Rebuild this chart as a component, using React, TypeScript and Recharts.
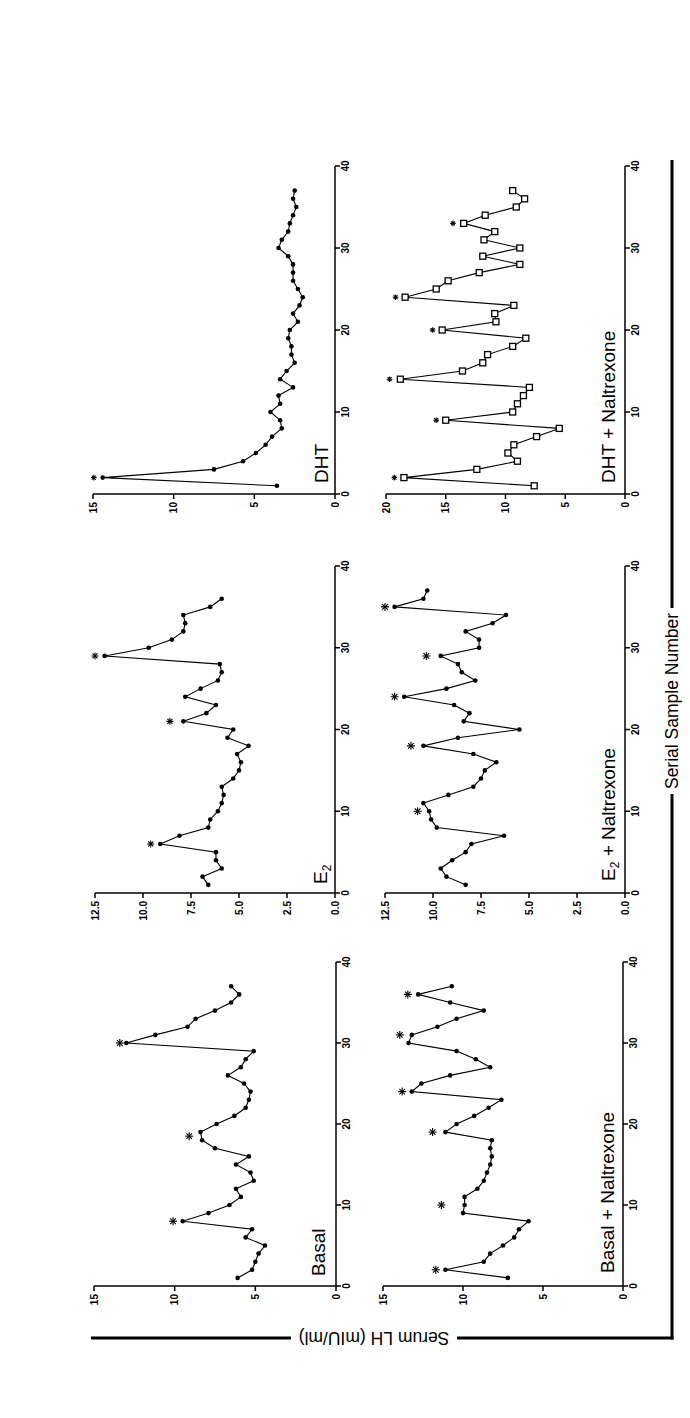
import React from 'react';
import { ComposedChart, Line, Scatter, XAxis, YAxis } from 'recharts';

// ---- ticks ----
const sampleTicks = [0, 10, 20, 30, 40];
const ticks15 = [0, 5, 10, 15];
const ticks125 = [0, 2.5, 5, 7.5, 10, 12.5];
const ticks20 = [0, 5, 10, 15, 20];

// ---- serum LH (mIU/ml), samples 1..n ----
const basalLH = [6.1, 5.2, 5.0, 4.8, 4.4, 5.6, 5.2, 9.5, 7.9, 6.6, 5.9, 6.2, 5.1, 5.3, 6.2, 5.4, 7.5, 8.3, 8.4, 7.4, 6.3, 5.6, 5.4, 5.3, 5.7, 6.7, 5.9, 5.6, 5.1, 13.0, 11.2, 9.2, 8.7, 7.5, 6.5, 6.0, 6.5];
const basalStarSamples = [8, 18.5, 30];
const basalStarLH = [10.1, 9.1, 13.4];

const e2LH = [6.6, 6.9, 5.9, 6.2, 6.2, 9.1, 8.1, 6.6, 6.5, 6.1, 5.9, 5.8, 5.9, 5.3, 5.0, 4.9, 5.1, 4.5, 5.6, 5.3, 7.9, 6.7, 6.2, 7.8, 7.0, 6.1, 5.9, 6.0, 12.0, 9.7, 8.5, 7.9, 7.8, 7.9, 6.5, 5.9];
const e2StarSamples = [6, 21, 29];
const e2StarLH = [9.6, 8.6, 12.5];

const dhtLH = [3.6, 14.4, 7.5, 5.7, 4.9, 4.3, 3.9, 3.3, 3.4, 4.0, 3.4, 3.5, 2.6, 3.4, 3.0, 2.5, 2.7, 2.7, 2.9, 2.8, 2.3, 2.6, 2.2, 2.0, 2.3, 2.6, 2.6, 2.6, 2.9, 3.5, 3.3, 2.9, 2.8, 2.6, 2.4, 2.6, 2.5];
const dhtStarSamples = [2];
const dhtStarLH = [14.95];

const basalNalLH = [7.2, 11.1, 8.7, 8.3, 7.5, 6.8, 6.5, 5.9, 10.0, 9.9, 9.9, 9.1, 8.7, 8.5, 8.3, 8.2, 8.3, 8.2, 11.1, 10.4, 9.3, 8.4, 7.6, 13.2, 12.6, 10.8, 8.3, 9.2, 10.4, 13.4, 13.2, 11.6, 10.4, 8.7, 10.8, 12.8, 10.7];
const basalNalStarSamples = [2, 10, 19, 24, 31, 36];
const basalNalStarLH = [11.7, 11.35, 11.9, 13.8, 13.95, 13.45];

const e2NalLH = [8.3, 9.3, 9.6, 9.0, 8.3, 8.0, 6.3, 9.8, 10.1, 10.2, 10.5, 9.2, 7.9, 7.5, 7.3, 6.7, 7.9, 10.5, 8.7, 5.5, 8.4, 8.1, 8.9, 11.5, 9.3, 7.8, 8.5, 8.7, 9.6, 7.6, 7.6, 8.3, 6.9, 6.2, 12.0, 10.5, 10.3];
const e2NalStarSamples = [10, 18, 24, 29, 35];
const e2NalStarLH = [10.8, 11.15, 12.0, 10.35, 12.5];

const dhtNalLH = [7.6, 18.5, 12.4, 9.0, 9.8, 9.3, 7.4, 5.5, 15.0, 9.4, 9.0, 8.5, 8.0, 18.8, 13.6, 11.9, 11.5, 9.4, 8.3, 15.3, 10.8, 10.9, 9.3, 18.4, 15.8, 14.8, 12.2, 8.8, 11.9, 8.8, 11.8, 10.9, 13.5, 11.7, 9.1, 8.4, 9.4];
const dhtNalStarSamples = [2, 9, 14, 20, 24, 33];
const dhtNalStarLH = [19.3, 15.8, 19.7, 16.1, 19.2, 14.4];

const toRows = (vals: number[]) => vals.map((v, i) => ({ s: i + 1, v }));
const toStars = (s: number[], v: number[]) => s.map((x, i) => ({ s: x, v: v[i] }));

const FONT = '"Liberation Sans", Arial, Helvetica, sans-serif';
const tickStyle = { fill: '#000', fontSize: 10, fontWeight: 700, fontFamily: FONT };

function Asterisk({ cx, cy, r }: { cx: number; cy: number; r: number }) {
  if (cx == null || cy == null) return null;
  const d = r * 0.7071;
  return (
    <g stroke="#000" strokeWidth={1.1}>
      <line x1={cx - r} y1={cy} x2={cx + r} y2={cy} />
      <line x1={cx} y1={cy - r} x2={cx} y2={cy + r} />
      <line x1={cx - d} y1={cy - d} x2={cx + d} y2={cy + d} />
      <line x1={cx - d} y1={cy + d} x2={cx + d} y2={cy - d} />
    </g>
  );
}

type PanelProps = {
  u0: number; u1: number; vTop: number; vBot: number;
  values: number[]; starS: number[]; starV: number[];
  yMax: number; yTicks: number[]; decimals?: boolean; square?: boolean; starR: number;
};

function Panel({ u0, u1, vTop, vBot, values, starS, starV, yMax, yTicks, decimals, square, starR }: PanelProps) {
  const ML = 44, MR = 16, MT = 10, MB = 30;
  const width = u1 - u0 + ML + MR;
  const height = vBot - vTop + MT + MB;
  const rows = toRows(values);
  const stars = toStars(starS, starV);
  const dot = square
    ? (p: any) => (
        <rect key={`sq-${p.index}`} x={p.cx - 3} y={p.cy - 3} width={6} height={6} fill="#fff" stroke="#000" strokeWidth={1.3} />
      )
    : { r: 2.3, fill: '#000', stroke: '#000', strokeWidth: 0 };
  return (
    <div style={{ position: 'absolute', left: u0 - ML, top: vTop - MT }}>
      <ComposedChart width={width} height={height} margin={{ top: MT, right: MR, bottom: 0, left: 0 }}>
        <XAxis
          type="number"
          dataKey="s"
          domain={[0, 40]}
          ticks={sampleTicks}
          height={MB}
          axisLine={{ stroke: '#000', strokeWidth: 1.5 }}
          tickLine={{ stroke: '#000', strokeWidth: 1.5 }}
          tickSize={5}
          tickMargin={2}
          tick={tickStyle}
          interval={0}
        />
        <YAxis
          type="number"
          domain={[0, yMax]}
          ticks={yTicks}
          width={ML}
          axisLine={{ stroke: '#000', strokeWidth: 1.5 }}
          tickLine={{ stroke: '#000', strokeWidth: 1.5 }}
          tickSize={5}
          tickMargin={3}
          tick={tickStyle}
          interval={0}
          tickFormatter={(v: number) => (decimals ? v.toFixed(1) : String(v))}
        />
        <Line
          data={rows}
          dataKey="v"
          type="linear"
          stroke="#000"
          strokeWidth={1.1}
          dot={dot as any}
          activeDot={false}
          isAnimationActive={false}
        />
        <Scatter
          data={stars}
          dataKey="v"
          isAnimationActive={false}
          shape={(p: any) => <Asterisk cx={p.cx} cy={p.cy} r={starR} />}
        />
      </ComposedChart>
    </div>
  );
}

export default function App() {
  const cols = [
    { u0: 132, u1: 456 },
    { u0: 525, u1: 852 },
    { u0: 924, u1: 1252 },
  ];
  return (
    <div style={{ position: 'fixed', left: 0, top: 0, width: 690, height: 1418, overflow: 'hidden', background: '#fff' }}>
      <div
        style={{
          position: 'absolute', left: 0, top: 0, width: 1418, height: 690,
          transformOrigin: '0 0', transform: 'translate(0px, 1418px) rotate(-90deg)',
        }}
      >
        <Panel {...cols[0]} vTop={94} vBot={336} values={basalLH} starS={basalStarSamples} starV={basalStarLH} yMax={15} yTicks={ticks15} starR={4} />
        <Panel {...cols[1]} vTop={95} vBot={335} values={e2LH} starS={e2StarSamples} starV={e2StarLH} yMax={12.5} yTicks={ticks125} decimals starR={3.5} />
        <Panel {...cols[2]} vTop={93} vBot={335} values={dhtLH} starS={dhtStarSamples} starV={dhtStarLH} yMax={15} yTicks={ticks15} starR={2.8} />
        <Panel {...cols[0]} vTop={383} vBot={623} values={basalNalLH} starS={basalNalStarSamples} starV={basalNalStarLH} yMax={15} yTicks={ticks15} starR={4} />
        <Panel {...cols[1]} vTop={385} vBot={625} values={e2NalLH} starS={e2NalStarSamples} starV={e2NalStarLH} yMax={12.5} yTicks={ticks125} decimals starR={4} />
        <Panel {...cols[2]} vTop={386} vBot={625} values={dhtNalLH} starS={dhtNalStarSamples} starV={dhtNalStarLH} yMax={20} yTicks={ticks20} square starR={2.8} />

        <svg width={1418} height={690} style={{ position: 'absolute', left: 0, top: 0, pointerEvents: 'none' }}>
          <g stroke="#000" strokeWidth={3}>
            <line x1={80} y1={91} x2={80} y2={291} />
            <line x1={80} y1={457} x2={80} y2={673.5} />
            <line x1={78.5} y1={672} x2={624} y2={672} />
            <line x1={810} y1={672} x2={1258} y2={672} />
          </g>
          <g fontFamily={FONT} fill="#000">
            <text x={80} y={374} transform="rotate(-90 80 374)" textAnchor="middle" dominantBaseline="central" fontSize={17.5}>
              Serum LH (mIU/ml)
            </text>
            <text x={717} y={672} textAnchor="middle" dominantBaseline="central" fontSize={17.5}>
              Serial Sample Number
            </text>
            <text x={142} y={325} fontSize={19}>Basal</text>
            <text x={534} y={327} fontSize={19}>E<tspan fontSize={12} dy={4}>2</tspan></text>
            <text x={935} y={328} fontSize={19}>DHT</text>
            <text x={145} y={614} fontSize={19}>Basal + Naltrexone</text>
            <text x={537} y={615} fontSize={19}>E<tspan fontSize={12} dy={4}>2</tspan><tspan dy={-4}> + Naltrexone</tspan></text>
            <text x={935} y={615} fontSize={19}>DHT + Naltrexone</text>
          </g>
        </svg>
      </div>
    </div>
  );
}
